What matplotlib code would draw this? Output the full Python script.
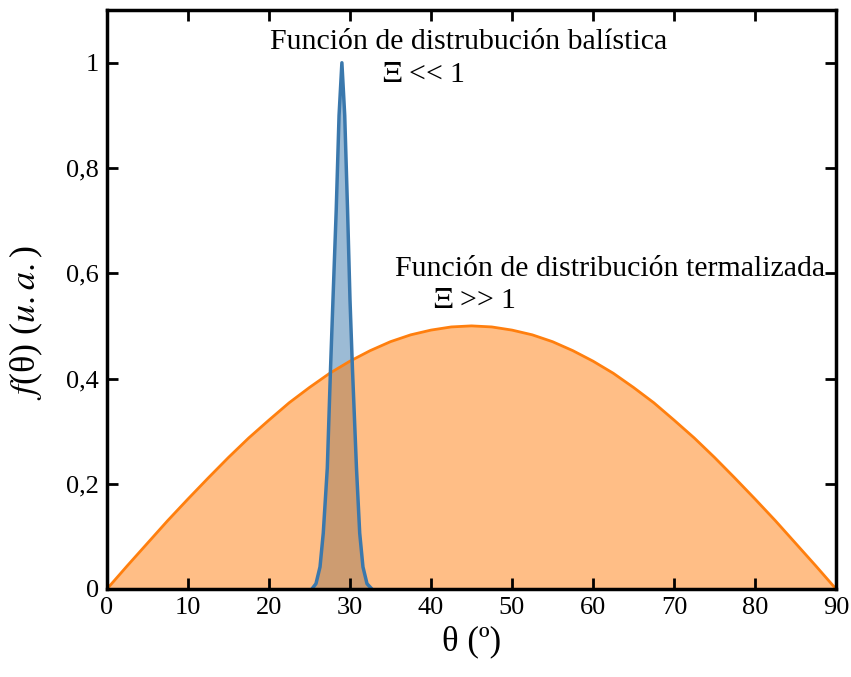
import numpy as np
import matplotlib
matplotlib.use('Agg')
import matplotlib.pyplot as plt

# thermalized distribution (orange), read every 2.5 degrees
theta_th = [0, 2.5, 5, 7.5, 10, 12.5, 15, 17.5, 20, 22.5, 25, 27.5, 30, 32.5,
            35, 37.5, 40, 42.5, 45, 47.5, 50, 52.5, 55, 57.5, 60, 62.5, 65,
            67.5, 70, 72.5, 75, 77.5, 80, 82.5, 85, 87.5, 90]
f_th = [0, 0.044, 0.087, 0.13, 0.171, 0.211, 0.25, 0.287, 0.321, 0.354,
        0.383, 0.41, 0.433, 0.453, 0.47, 0.483, 0.492, 0.498, 0.5,
        0.498, 0.492, 0.483, 0.47, 0.453, 0.433, 0.41, 0.383, 0.354,
        0.321, 0.287, 0.25, 0.211, 0.171, 0.13, 0.087, 0.044, 0]

# ballistic distribution (blue), narrow peak near 29 degrees
theta_bal = [25.3, 25.8, 26.3, 26.7, 27.2, 27.6, 27.9, 28.3, 28.65, 29.0,
             29.35, 29.7, 30.0, 30.3, 30.8, 31.2, 31.6, 32.1, 32.7]
f_bal = [0, 0.01, 0.042, 0.106, 0.23, 0.42, 0.55, 0.72, 0.9, 1.0,
         0.9, 0.72, 0.55, 0.42, 0.23, 0.106, 0.042, 0.01, 0]

xticks = [0, 10, 20, 30, 40, 50, 60, 70, 80, 90]
yticks = [0, 0.2, 0.4, 0.6, 0.8, 1.0]
ytick_labels = ['0', '0,2', '0,4', '0,6', '0,8', '1']

plt.rcParams['font.family'] = ['Liberation Serif', 'DejaVu Serif']
plt.rcParams['mathtext.fontset'] = 'stix'

orange = '#ff7f0e'
blue = '#3a78ad'

fig = plt.figure(figsize=(8.51, 6.77), dpi=100)
ax = fig.add_axes([0.1257, 0.13, 0.8567, 0.855])

# blue fill under the orange one so the overlap turns brownish
ax.fill_between(theta_bal, f_bal, color=blue, alpha=0.5, lw=0)
ax.fill_between(theta_th, f_th, color=orange, alpha=0.5, lw=0)
ax.plot(theta_th, f_th, color=orange, lw=2)
ax.plot(theta_bal, f_bal, color=blue, lw=2.5)

ax.set_xlim(0, 90)
ax.set_ylim(0, 1.1)
ax.set_xticks(xticks)
ax.set_xticklabels([str(t) for t in xticks])
ax.set_yticks(yticks)
ax.set_yticklabels(ytick_labels)
ax.tick_params(direction='in', length=8, width=2, labelsize=19,
               top=True, right=True, pad=6)

for s in ax.spines.values():
    s.set_linewidth(2.5)

ax.set_xlabel('θ (º)', fontsize=25, labelpad=4)
ax.set_ylabel('$f$(θ) ($u.a.$)', fontsize=26)
ax.yaxis.set_label_coords(-0.085, 0.46)

ax.text(44.7, 1.04, 'Función de distrubución balística', fontsize=21.5,
        ha='center', va='center')
ax.text(34.0, 0.977, r'$\Xi$ << 1', fontsize=21.5, ha='left', va='center')
ax.text(62.1, 0.608, 'Función de distribución termalizada', fontsize=21.5,
        ha='center', va='center')
ax.text(40.2, 0.548, r'$\Xi$ >> 1', fontsize=21.5, ha='left', va='center')

fig.savefig('out.png', dpi=100)
